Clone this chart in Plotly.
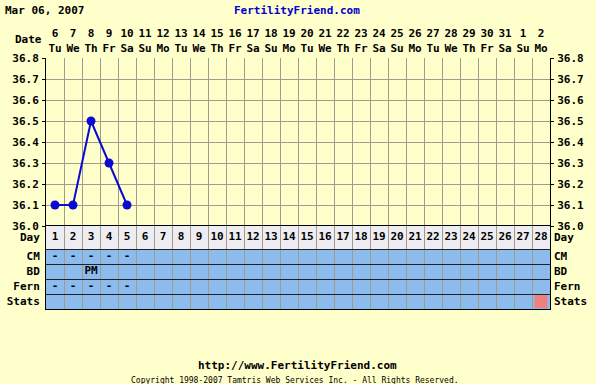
import plotly.graph_objects as go

# ---------------- data ----------------
date_nums = ["6", "7", "8", "9", "10", "11", "12", "13", "14", "15", "16", "17", "18", "19",
             "20", "21", "22", "23", "24", "25", "26", "27", "28", "29", "30", "31", "1", "2"]
weekdays = ["Tu", "We", "Th", "Fr", "Sa", "Su", "Mo", "Tu", "We", "Th", "Fr", "Sa", "Su", "Mo",
            "Tu", "We", "Th", "Fr", "Sa", "Su", "Mo", "Tu", "We", "Th", "Fr", "Sa", "Su", "Mo"]
cycle_days = list(range(1, 29))
temp_days = [1, 2, 3, 4, 5]
temps = [36.1, 36.1, 36.5, 36.3, 36.1]
cm_obs = ["-", "-", "-", "-", "-"]
bd_obs = ["", "", "PM", "", ""]
fern_obs = ["-", "-", "-", "-", "-"]
stats_days = [28]
temp_ticks = [36.0, 36.1, 36.2, 36.3, 36.4, 36.5, 36.6, 36.7, 36.8]
row_labels = ["Day", "CM", "BD", "Fern", "Stats"]

# ---------------- geometry / styles ----------------
W, H = 596, 384
ML, MR, MT, MB = 46, 46, 58, 75
PH = H - MT - MB
row_h = [23, 15, 15, 15, 15]          # Day, CM, BD, Fern, Stats (pixel units)
table_h = sum(row_h)
split = table_h / PH
bounds = [table_h]
for h in row_h:
    bounds.append(bounds[-1] - h)
centers = [(bounds[i] + bounds[i + 1]) / 2 for i in range(len(row_h))]
row_center = dict(zip(row_labels, centers))

BG = "#FFFFCC"
BLUE_ROW = "#8CBCEE"
DAY_ROW = "#EEEEF2"
GRID = "#A09C8C"
LINE = "#0A0AD2"
FONT = "DejaVu Sans Mono"
bold = dict(family=FONT, size=11, color="black", weight="bold")

fig = go.Figure()

fig.add_trace(go.Scatter(x=temp_days, y=temps, mode="lines+markers",
                         line=dict(color=LINE, width=2),
                         marker=dict(color=LINE, size=9),
                         xaxis="x", yaxis="y", hoverinfo="skip", showlegend=False))
fig.add_trace(go.Scatter(x=[None], y=[None], xaxis="x", yaxis="y3", showlegend=False))
fig.add_trace(go.Scatter(x=[None], y=[None], xaxis="x2", yaxis="y", showlegend=False))

fig.add_trace(go.Scatter(x=cycle_days, y=[row_center["Day"]] * len(cycle_days),
                         mode="text", text=[str(d) for d in cycle_days],
                         textfont=bold, xaxis="x", yaxis="y2",
                         hoverinfo="skip", showlegend=False))
for lab, vals in (("CM", cm_obs), ("BD", bd_obs), ("Fern", fern_obs)):
    fig.add_trace(go.Scatter(x=temp_days, y=[row_center[lab]] * len(vals),
                             mode="text", text=vals, textfont=bold,
                             xaxis="x", yaxis="y2", hoverinfo="skip", showlegend=False))
fig.add_trace(go.Scatter(x=stats_days, y=[row_center["Stats"]] * len(stats_days),
                         mode="markers",
                         marker=dict(symbol="square", size=13, color="#EE8080",
                                     line=dict(width=0)),
                         xaxis="x", yaxis="y2", hoverinfo="skip", showlegend=False))
fig.add_trace(go.Scatter(x=[None], y=[None], xaxis="x", yaxis="y4", showlegend=False))

fig.add_shape(type="rect", xref="x domain", yref="y2", x0=0, x1=1,
              y0=bounds[1], y1=bounds[0], fillcolor=DAY_ROW, line_width=0, layer="below")
fig.add_shape(type="rect", xref="x domain", yref="y2", x0=0, x1=1,
              y0=bounds[-1], y1=bounds[1], fillcolor=BLUE_ROW, line_width=0, layer="below")

col_bounds = [d + 0.5 for d in cycle_days[:-1]]

fig.update_layout(
    width=W, height=H,
    margin=dict(l=ML, r=MR, t=MT, b=MB, autoexpand=False),
    paper_bgcolor=BG, plot_bgcolor=BG,
    showlegend=False,
    xaxis=dict(range=[0.5, 28.5], anchor="y2", tickvals=cycle_days, showticklabels=False,
               ticks="", showgrid=False, zeroline=False, fixedrange=True, automargin=False,
               minor=dict(tickvals=col_bounds, showgrid=True, gridcolor=GRID, gridwidth=1,
                          ticks=""),
               showline=True, linecolor="black", linewidth=1, mirror=True),
    xaxis2=dict(range=[0.5, 28.5], overlaying="x", side="top", anchor="y",
                tickvals=cycle_days, automargin=False,
                ticktext=[f"{n}<br>{w}" for n, w in zip(date_nums, weekdays)],
                tickfont=bold, ticks="", showgrid=False, zeroline=False,
                ticklabelstandoff=3),
    yaxis=dict(domain=[split, 1], range=[36.0, 36.8], tickvals=temp_ticks,
               ticktext=[f"{t:.1f}" for t in temp_ticks], tickfont=bold,
               ticks="outside", ticklen=3, tickcolor="black", automargin=False,
               showgrid=True, gridcolor=GRID, gridwidth=1, zeroline=False,
               showline=True, linecolor="black", linewidth=1, mirror=True,
               anchor="x", ticklabelstandoff=1),
    yaxis3=dict(overlaying="y", side="right", range=[36.0, 36.8], tickvals=temp_ticks,
                ticktext=[f"{t:.1f}" for t in temp_ticks], tickfont=bold,
                ticks="outside", ticklen=3, tickcolor="black", automargin=False,
                showgrid=False, zeroline=False, anchor="x", ticklabelstandoff=1),
    yaxis2=dict(domain=[0, split], range=[0, table_h], tickvals=centers,
                ticktext=row_labels, tickfont=bold, ticks="", automargin=False,
                showgrid=False, zeroline=False,
                minor=dict(tickvals=bounds[1:-1], showgrid=True, gridcolor="#222222",
                           gridwidth=1, ticks=""),
                showline=True, linecolor="black", linewidth=1, mirror=True,
                anchor="x", ticklabelstandoff=3),
    yaxis4=dict(overlaying="y2", side="right", range=[0, table_h], tickvals=centers,
                ticktext=row_labels, tickfont=bold, ticks="", automargin=False,
                showgrid=False, zeroline=False, anchor="x", ticklabelstandoff=3),
)

def py(pix):
    return (H - MB - pix) / PH

def px(pix):
    return (pix - ML) / (W - ML - MR)

fig.add_annotation(text="Date", xref="paper", yref="paper", x=px(44), y=py(39),
                   xanchor="right", yanchor="middle", showarrow=False, font=bold)
fig.add_annotation(text="Mar 06, 2007", xref="paper", yref="paper", x=px(3), y=py(10.5),
                   xanchor="left", yanchor="middle", showarrow=False, font=bold)
fig.add_annotation(text="FertilityFriend.com", xref="paper", yref="paper", x=px(297),
                   y=py(10.5), xanchor="center", yanchor="middle", showarrow=False,
                   font=dict(family=FONT, size=11, color="#0000CC", weight="bold"))
fig.add_annotation(text="http://www.FertilityFriend.com", xref="paper", yref="paper",
                   x=px(297), y=py(365.5), xanchor="center", yanchor="middle",
                   showarrow=False, font=bold)
fig.add_annotation(text="Copyright 1998-2007 Tamtris Web Services Inc. - All Rights Reserved.",
                   xref="paper", yref="paper", x=px(295), y=py(380), xanchor="center",
                   yanchor="middle", showarrow=False,
                   font=dict(family=FONT, size=8, color="black"))

fig.write_html("out.html")
